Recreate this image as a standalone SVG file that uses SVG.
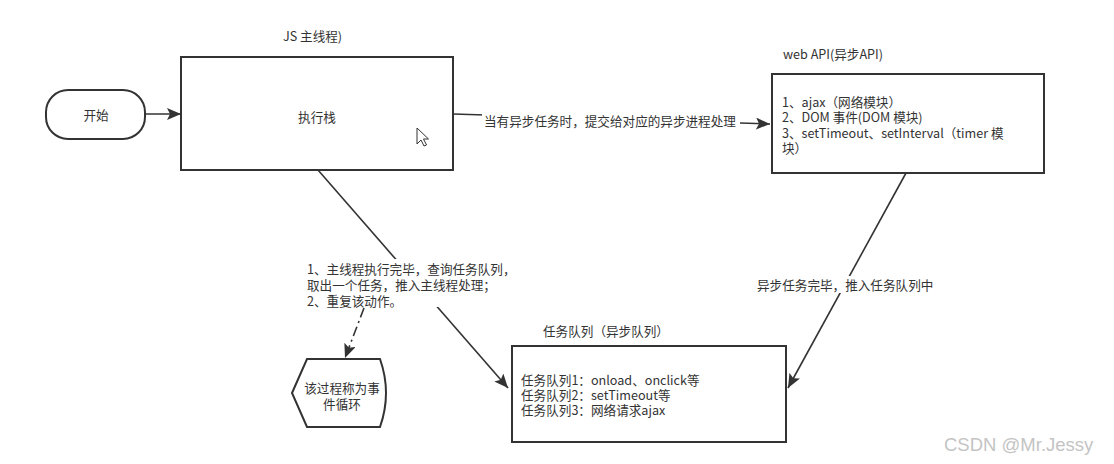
<svg xmlns="http://www.w3.org/2000/svg" width="1114" height="464" viewBox="0 0 1114 464">
<style>
.box{fill:#fff;stroke:#333;stroke-width:2}
.ln{fill:none;stroke:#333;stroke-width:1.6}
.t{font-family:"Noto Sans CJK SC","Microsoft YaHei",sans-serif;font-size:12.6px;fill:#333;dominant-baseline:central}
.c{text-anchor:middle}
.bg{fill:#fff}
</style>
<defs>
<marker id="ah" markerUnits="userSpaceOnUse" markerWidth="16" markerHeight="12" refX="14" refY="6" orient="auto">
<path d="M0,0 L14,6 L0,12 L3,6 Z" fill="#333"/>
</marker>
</defs>
<rect width="1114" height="464" fill="#fff"/>
<g id="connectors">
<line class="ln" x1="145" y1="114" x2="181" y2="114" marker-end="url(#ah)"/>
<line class="ln" x1="453" y1="114" x2="770" y2="124" marker-end="url(#ah)"/>
<rect class="bg" x="482" y="111" width="258" height="18"/>
<text class="t" x="484" y="120">当有异步任务时，提交给对应的异步进程处理</text>
<line class="ln" x1="906" y1="173" x2="788" y2="388" marker-end="url(#ah)"/>
<rect class="bg" x="755" y="276" width="182" height="17"/>
<text class="t" x="757" y="284">异步任务完毕，推入任务队列中</text>
<line class="ln" x1="318" y1="170" x2="508" y2="388" marker-end="url(#ah)"/>
<line class="ln" x1="364" y1="308" x2="345" y2="358" stroke-dasharray="10,4,2,4" marker-end="url(#ah)"/>
<rect class="bg" x="305" y="259" width="218" height="48"/>
<text class="t"><tspan x="307" y="268">1、主线程执行完毕，查询任务队列，</tspan><tspan x="307" y="284">取出一个任务，推入主线程处理；</tspan><tspan x="307" y="300">2、重复该动作。</tspan></text>
</g>
<g id="start">
<rect class="box" x="46" y="90" width="99" height="49" rx="22" ry="22"/>
<text class="t c" x="96" y="114">开始</text>
</g>
<g id="main">
<text class="t" x="283" y="35">JS 主线程)</text>
<rect class="box" x="181" y="57" width="272" height="113"/>
<text class="t c" x="317" y="116">执行栈</text>
<path d="M417,128 L417,144 L421,140 L424,146 L426.5,145 L423.5,139 L428.5,139 Z" fill="#fff" stroke="#333" stroke-width="1"/>
</g>
<g id="webapi">
<text class="t" x="783" y="53">web API(异步API)</text>
<rect class="box" x="772" y="74" width="272" height="99"/>
<text class="t"><tspan x="782" y="101">1、ajax（网络模块）</tspan><tspan x="782" y="116">2、DOM 事件(DOM 模块)</tspan><tspan x="782" y="132">3、setTimeout、setInterval（timer 模</tspan><tspan x="782" y="147">块）</tspan></text>
</g>
<g id="queue">
<text class="t" x="543" y="330">任务队列（异步队列）</text>
<rect class="box" x="512" y="346" width="274" height="96"/>
<text class="t"><tspan x="521" y="379">任务队列1：onload、onclick等</tspan><tspan x="521" y="394">任务队列2：setTimeout等</tspan><tspan x="521" y="409">任务队列3：网络请求ajax</tspan></text>
</g>
<g id="loop">
<path class="box" d="M292,393 L307,359 L380,359 Q392,393 380,427 L307,427 Z"/>
<text class="t c"><tspan x="342" y="387">该过程称为事</tspan><tspan x="342" y="403">件循环</tspan></text>
</g>
<text x="944" y="451" font-family="Liberation Sans, Arial, sans-serif" font-size="18.5" fill="#c4c4c4">CSDN @Mr.Jessy</text>
</svg>
